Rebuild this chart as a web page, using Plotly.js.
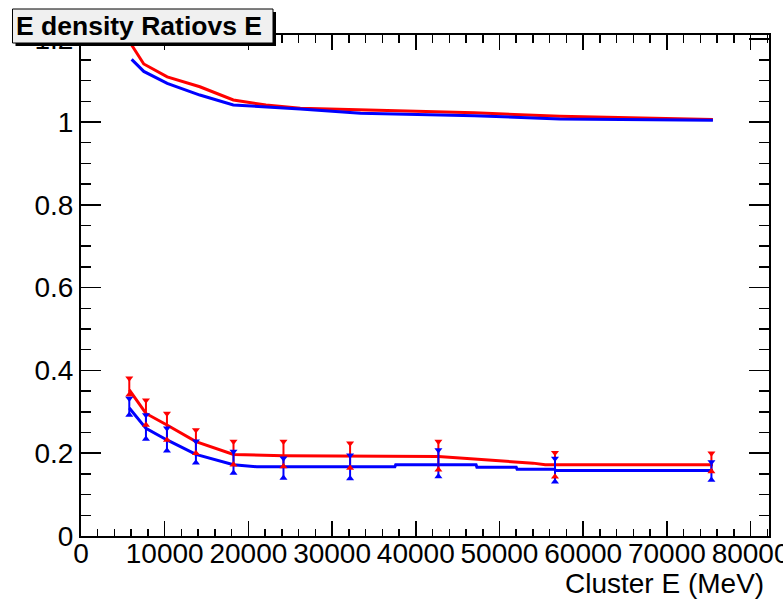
<!DOCTYPE html>
<html>
<head>
<meta charset="utf-8">
<script src="https://cdn.plot.ly/plotly-3.0.1.min.js"></script>
<style>html,body{margin:0;padding:0;background:#fff;}#chart{width:783px;height:599px;}</style>
</head>
<body>
<div id="chart"></div>
<script>
// ---- data ----
var ptX      = [5770, 7760, 10270, 13730, 18220, 24190, 32150, 42700, 56630, 75320];
var redVal   = [0.361, 0.298, 0.264, 0.228, 0.200, 0.198, 0.194, 0.194, 0.172, 0.178];
var redErr   = [0.020, 0.030, 0.032, 0.028, 0.028, 0.030, 0.030, 0.034, 0.029, 0.022];
var blueVal  = [0.312, 0.263, 0.233, 0.203, 0.178, 0.164, 0.167, 0.176, 0.159, 0.157];
var blueErr  = [0.020, 0.029, 0.027, 0.026, 0.026, 0.024, 0.028, 0.032, 0.028, 0.022];

var topX     = [6050, 7500, 10300, 14200, 18200, 22100, 26200, 33400, 40500, 47000, 57200, 65000, 75500];
var redTopY  = [1.186, 1.140, 1.109, 1.085, 1.053, 1.041, 1.033, 1.029, 1.024, 1.022, 1.014, 1.010, 1.006];
var blueTopY = [1.151, 1.122, 1.093, 1.065, 1.041, 1.037, 1.031, 1.021, 1.017, 1.015, 1.007, 1.005, 1.004];

var redLowX  = [5770, 7760, 10270, 13730, 18220, 24190, 42700, 45550, 48300, 51280, 54000, 55470, 75500];
var redLowY  = [0.353, 0.296, 0.268, 0.228, 0.197, 0.194, 0.192, 0.188, 0.184, 0.180, 0.176, 0.172, 0.172];
var blueLowX = [5770, 7760, 10270, 13730, 18220, 21000, 37500, 37600, 47200, 47300, 52000, 52100, 56600, 56700, 75500];
var blueLowY = [0.309, 0.260, 0.232, 0.197, 0.172, 0.167, 0.167, 0.172, 0.172, 0.166, 0.166, 0.161, 0.161, 0.158, 0.158];

var titleText = "E density Ratiovs E";
var xTitle = "Cluster E (MeV)";

// ---- build ----
var RED = "#ff0000", BLUE = "#0000ff";
function add(a, b, s) { return a.map(function (v, i) { return v + s * b[i]; }); }

var traces = [
  {x: topX, y: redTopY, mode: "lines", line: {color: RED, width: 3}},
  {x: topX, y: blueTopY, mode: "lines", line: {color: BLUE, width: 3}},
  {x: redLowX, y: redLowY, mode: "lines", line: {color: RED, width: 3}},
  {x: blueLowX, y: blueLowY, mode: "lines", line: {color: BLUE, width: 3}},
  {x: ptX, y: redVal, mode: "markers", marker: {size: 1, color: "rgba(0,0,0,0)"},
   error_y: {type: "data", array: redErr, visible: true, color: RED, thickness: 2, width: 0}},
  {x: ptX, y: blueVal, mode: "markers", marker: {size: 1, color: "rgba(0,0,0,0)"},
   error_y: {type: "data", array: blueErr, visible: true, color: BLUE, thickness: 2, width: 0}},
  {x: ptX, y: add(redVal, redErr, 1), mode: "markers", marker: {symbol: "triangle-down", size: 7, color: RED}},
  {x: ptX, y: add(redVal, redErr, -1), mode: "markers", marker: {symbol: "triangle-up", size: 7, color: RED}},
  {x: ptX, y: add(blueVal, blueErr, 1), mode: "markers", marker: {symbol: "triangle-down", size: 7, color: BLUE}},
  {x: ptX, y: add(blueVal, blueErr, -1), mode: "markers", marker: {symbol: "triangle-up", size: 7, color: BLUE}}
];

var L = 81, R = 14, T = 35, B = 63, W = 783, H = 599;
var pw = W - L - R, ph = H - T - B;
function px(x) { return (x - L) / pw; }
function py(y) { return (H - B - y) / ph; }

var font = {family: "Liberation Sans, Arial, Helvetica, sans-serif", size: 28, color: "#000"};

var layout = {
  width: W, height: H,
  margin: {l: L, r: R, t: T, b: B, pad: 0},
  paper_bgcolor: "#fff", plot_bgcolor: "#fff",
  showlegend: false,
  font: font,
  xaxis: {
    range: [0, 82200], dtick: 10000, tick0: 0, tickformat: "d",
    ticks: "inside", ticklen: 15, tickwidth: 1.5, tickcolor: "#000",
    ticklabelstandoff: -9, ticklabeloverflow: "allow",
    showline: true, linecolor: "#000", linewidth: 2, mirror: "allticks",
    showgrid: false, zeroline: false, tickfont: font,
    minor: {dtick: 2000, ticks: "inside", ticklen: 7.5, tickwidth: 1.5, tickcolor: "#000", showgrid: false}
  },
  yaxis: {
    range: [0, 1.21], dtick: 0.2, tick0: 0,
    ticks: "inside", ticklen: 20, tickwidth: 1.5, tickcolor: "#000",
    ticklabeloverflow: "allow",
    showline: true, linecolor: "#000", linewidth: 2, mirror: "allticks",
    showgrid: false, zeroline: false, tickfont: font,
    minor: {dtick: 0.05, ticks: "inside", ticklen: 10, tickwidth: 1.5, tickcolor: "#000", showgrid: false}
  },
  shapes: [
    {type: "rect", xref: "paper", yref: "paper", layer: "above",
     x0: px(15.5), x1: px(276), y0: py(46), y1: py(12),
     fillcolor: "#000", line: {width: 0}},
    {type: "rect", xref: "paper", yref: "paper", layer: "above",
     x0: px(12.5), x1: px(273), y0: py(43), y1: py(9),
     fillcolor: "#f0f0f0", line: {color: "#000", width: 1}}
  ],
  annotations: [
    {text: "<b>" + titleText + "</b>", xref: "paper", yref: "paper",
     x: px(139), y: py(26), xanchor: "center", yanchor: "middle", showarrow: false,
     font: {family: "Liberation Sans, Arial, Helvetica, sans-serif", size: 26.5, color: "#000"}},
    {text: xTitle, xref: "paper", yref: "paper",
     x: px(766), y: py(583), xanchor: "right", yanchor: "middle", showarrow: false,
     font: font}
  ]
};

Plotly.newPlot("chart", traces, layout, {staticPlot: true, displayModeBar: false});
</script>
</body>
</html>
